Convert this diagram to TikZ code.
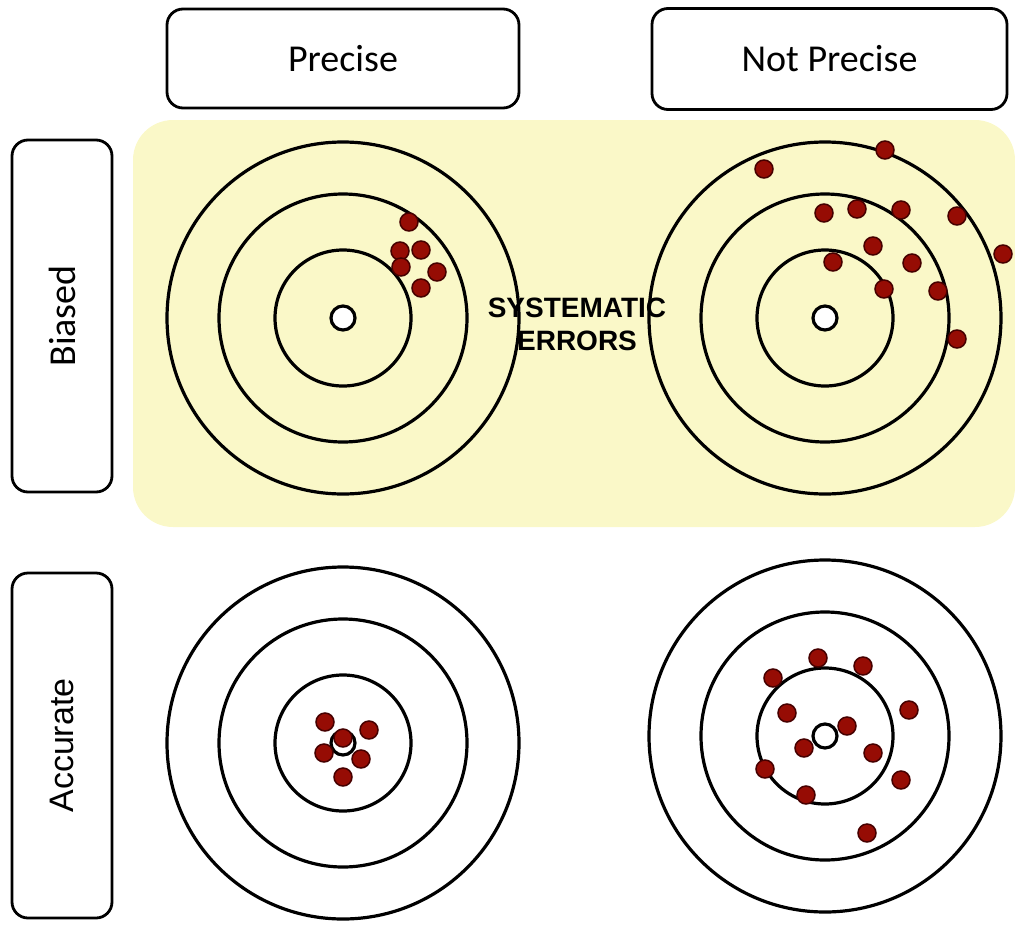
\documentclass[tikz,border=0pt]{standalone}
\usepackage{fontspec}
\setmainfont{Carlito}
\newfontfamily\arialfont{Liberation Sans}

\definecolor{biasyellow}{RGB}{250,248,200}
\definecolor{shotred}{RGB}{150,12,4}
\definecolor{shotedge}{RGB}{70,0,0}

\tikzset{
  label box/.style={draw, line width=2.8pt, rounded corners=16pt, fill=white},
  ring/.style={line width=3.2pt},
  shot/.style={fill=shotred, draw=shotedge, line width=1.5pt},
}

\begin{document}
\begin{tikzpicture}[x=1pt,y=-1pt]
    \useasboundingbox (0,0) rectangle (1015,924);
    % yellow band behind the biased row
    \fill[biasyellow, rounded corners=40pt] (133,120) rectangle (1015,527);
    % column headers
    \node[label box, minimum width=352pt, minimum height=99pt] (precise) at (343,58.5)
        {\fontsize{38}{40}\selectfont Precise};
    \node[label box, minimum width=355pt, minimum height=101pt] (notprecise) at (829.5,59)
        {\fontsize{38}{40}\selectfont Not Precise};
    % row headers
    \node[label box, rotate=90, minimum width=352pt, minimum height=100pt] (biased) at (62,316)
        {\fontsize{38}{40}\selectfont Biased};
    \node[label box, rotate=90, minimum width=345pt, minimum height=100pt] (accurate) at (62,745.5)
        {\arialfont\fontsize{34}{36}\selectfont Accurate};
    % the four targets
    \foreach \cx/\cy in {343/318, 825/318, 343/743, 825/736} {
        \foreach \r in {176,124,68}
            \draw[ring] (\cx,\cy) circle (\r pt);
        \draw[ring, fill=white] (\cx,\cy) circle (12pt);
    }
    % label between the biased targets
    \node[align=center, font=\arialfont\bfseries\fontsize{28}{33}\selectfont] (syserr) at (577,324)
        {SYSTEMATIC\\ERRORS};
    % shots: biased and precise
    \foreach \sx/\sy in {409/222, 400/251, 421/250, 401/267, 437/272, 421/288}
        \filldraw[shot] (\sx,\sy) circle (9pt);
    % shots: biased and not precise
    \foreach \sx/\sy in {764/169, 885/150, 824/213, 857/209, 901/210, 957/216, 1003/254,
                         873/246, 833/262, 912/263, 884/289, 938/291, 957/339}
        \filldraw[shot] (\sx,\sy) circle (9pt);
    % shots: accurate and precise
    \foreach \sx/\sy in {325/722, 369/730, 343/738, 324/753, 361/759, 343/777}
        \filldraw[shot] (\sx,\sy) circle (9pt);
    % shots: accurate and not precise
    \foreach \sx/\sy in {818/658, 863/666, 773/678, 787/713, 909/710, 847/726,
                         804/748, 873/753, 765/769, 901/780, 806/795, 867/833}
        \filldraw[shot] (\sx,\sy) circle (9pt);
\end{tikzpicture}
\end{document}
